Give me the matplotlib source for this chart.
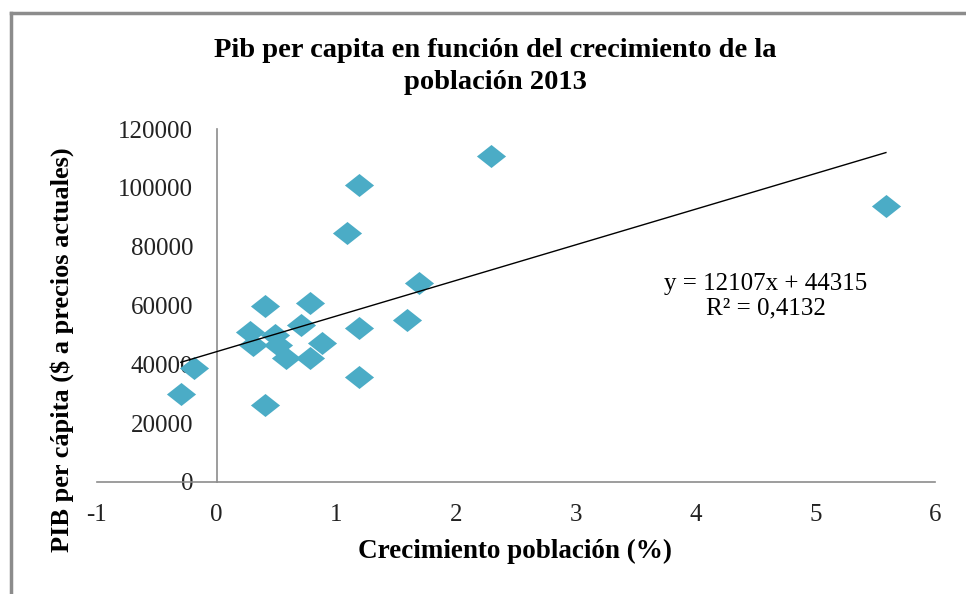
import numpy as np
import matplotlib.pyplot as plt
from matplotlib.lines import Line2D

# data
growth = [-0.30, -0.19, 0.40, 0.40, 0.28, 0.30, 0.49, 0.51, 0.58, 0.70, 0.78,
          0.88, 0.78, 1.19, 1.19, 1.09, 1.19, 2.29, 1.59, 1.69, 5.59]
gdp_pc = [29900, 38700, 26200, 59800, 51000, 46600, 50000, 46600, 42100, 53400, 42100,
          47200, 60800, 52300, 35700, 84600, 101000, 110800, 55100, 67600, 93800]
slope, intercept = 12107, 44315
r2_text = "0,4132"

xticks = [-1, 0, 1, 2, 3, 4, 5, 6]
yticks = [0, 20000, 40000, 60000, 80000, 100000, 120000]

plt.rcParams["font.family"] = ["Liberation Serif", "DejaVu Serif"]

marker_color = "#4BACC6"
axis_color = "#8c8c8c"

fig = plt.figure(figsize=(9.66, 5.94), dpi=100)
ax = fig.add_axes([0.1004, 0.1886, 0.8675, 0.5942])

diamond = [(-1, 0), (0, 0.79), (1, 0), (0, -0.79), (-1, 0)]
ax.plot(growth, gdp_pc, linestyle="none", marker=diamond, markersize=21,
        color=marker_color, markeredgewidth=0, zorder=3)

xs = np.array([min(growth), max(growth)])
ax.plot(xs, slope * xs + intercept, color="black", linewidth=1.0, zorder=4)

ax.set_xlim(-1, 6)
ax.set_ylim(0, 120000)
ax.set_xticks(xticks)
ax.set_yticks(yticks)
ax.set_xticklabels([str(t) for t in xticks])
ax.set_yticklabels([str(t) for t in yticks])

for side in ("top", "right"):
    ax.spines[side].set_visible(False)
ax.spines["left"].set_position(("data", 0))
ax.spines["left"].set_color(axis_color)
ax.spines["bottom"].set_color(axis_color)
ax.spines["left"].set_linewidth(1.2)
ax.spines["bottom"].set_linewidth(1.2)
ax.tick_params(axis="both", length=0, labelsize=18, colors="#222222")
ax.tick_params(axis="x", pad=16)
ax.tick_params(axis="y", pad=17)

ax.text(0.798, 0.527, f"y = {slope}x + {intercept}\nR² = {r2_text}",
        transform=ax.transAxes, ha="center", va="center", fontsize=18,
        linespacing=1.15)

fig.text(0.513, 0.888, "Pib per capita en función del crecimiento de la\npoblación 2013",
         ha="center", va="center", fontsize=20.5, fontweight="bold", linespacing=1.4)
fig.text(0.533, 0.071, "Crecimiento población (%)", ha="center", va="center",
         fontsize=19.5, fontweight="bold")
fig.text(0.064, 0.412, "PIB per cápita ($ a precios actuales)", ha="center", va="center",
         rotation=90, fontsize=19, fontweight="bold")

# outer chart frame
fig.add_artist(Line2D([11 / 966, 11 / 966], [0, 1 - 13 / 594], transform=fig.transFigure,
                      color=axis_color, linewidth=2.5))
fig.add_artist(Line2D([11 / 966, 1], [1 - 13 / 594, 1 - 13 / 594], transform=fig.transFigure,
                      color=axis_color, linewidth=2.5))

fig.savefig("out.png", dpi=100)
